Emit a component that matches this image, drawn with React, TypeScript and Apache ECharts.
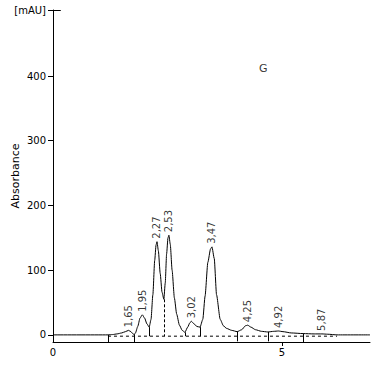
import React, { useEffect, useRef } from "react";
import * as echarts from "echarts";

// Chromatogram trace (retention time in min, absorbance in mAU)
const TIME = [
  0, 1.2, 1.3, 1.4, 1.5, 1.58, 1.65, 1.7, 1.74, 1.77, 1.8, 1.85, 1.9, 1.95, 2.0, 2.05, 2.1,
  2.14, 2.18, 2.22, 2.25, 2.27, 2.3, 2.34, 2.38, 2.42, 2.45, 2.48, 2.51, 2.53, 2.56, 2.6,
  2.65, 2.7, 2.76, 2.82, 2.88, 2.94, 2.99, 3.02, 3.08, 3.14, 3.21, 3.27, 3.32, 3.38, 3.44,
  3.47, 3.52, 3.57, 3.65, 3.72, 3.79, 3.9, 4.02, 4.12, 4.2, 4.25, 4.32, 4.42, 4.55, 4.69,
  4.82, 4.92, 5.02, 5.2, 5.46, 5.7, 5.87, 6.0, 6.2, 6.92,
];
const SIGNAL = [
  0, 0, 0.5, 1.5, 3, 5, 7, 5, 2, 0.5, 3, 13, 26, 31, 26, 17, 12,
  24, 62, 115, 139, 144, 130, 95, 66, 55, 80, 125, 150, 154, 140, 100,
  57, 32, 15, 7, 4, 12, 19, 21, 17, 13, 12, 24, 60, 112, 133,
  136, 118, 62, 24, 14, 10, 7, 5, 8, 14, 15, 12, 8, 5.5, 4.5,
  5.5, 6, 5, 3, 2, 1.5, 1.5, 1, 0, 0,
];

// Integrated peaks
const PEAK_RT = [1.65, 1.95, 2.27, 2.53, 3.02, 3.47, 4.25, 4.92, 5.87];
const PEAK_HEIGHT = [7, 31, 144, 154, 21, 136, 15, 6, 1.5];
const PEAK_LABELS = ["1,65", "1,95", "2,27", "2,53", "3,02", "3,47", "4,25", "4,92", "5,87"];

// Integration baseline and peak boundaries
const BASELINE_START = 1.2;
const BASELINE_END = 6.2;
const BASELINE_LEVEL = -2;
const DROP_T = [1.2, 1.77, 2.1, 2.42, 2.88, 3.21, 4.02, 4.69, 5.46];
const DROP_TOP = [0, 1, 12, 55, 4, 12, 5, 4.5, 2];
const DROP_BOTTOM = [-11, -11, -2, -2, -2, -2, -10, -10, -11];
const DROP_DASHED = [false, false, false, true, false, false, false, false, false];

// Axes
const Y_MIN = -11;
const Y_MAX = 502;
const Y_TICKS = [0, 100, 200, 300, 400, 502];
const X_MIN = 0;
const X_MAX = 6.92;
const X_TICKS = [0, 5];

const FONT = "DejaVu Sans";

export default function App() {
  const ref = useRef<HTMLDivElement>(null);

  useEffect(() => {
    if (!ref.current) return;
    const chart = echarts.init(ref.current, null, { renderer: "svg" });

    const trace = TIME.map((t, i) => [t, SIGNAL[i]]);
    const drops = DROP_T.map((t, i) => [
      { coord: [t, DROP_TOP[i]], lineStyle: { type: DROP_DASHED[i] ? [3, 2] : "solid" } },
      { coord: [t, DROP_BOTTOM[i]] },
    ]);

    chart.setOption({
      animation: false,
      backgroundColor: "#ffffff",
      grid: {
        left: 53,
        top: 10,
        right: 4,
        bottom: 23,
        containLabel: false,
        outerBoundsMode: "none",
      },
      xAxis: {
        type: "value",
        min: X_MIN,
        max: X_MAX,
        axisLine: { onZero: false, lineStyle: { color: "#000", width: 1 } },
        axisTick: { show: true, customValues: [5], length: 4, lineStyle: { color: "#000" } },
        axisLabel: {
          customValues: X_TICKS,
          color: "#000",
          fontFamily: FONT,
          fontSize: 10,
          margin: 5,
          formatter: (v: number) => String(v),
        },
        splitLine: { show: false },
      },
      yAxis: {
        type: "value",
        min: Y_MIN,
        max: Y_MAX,
        name: "Absorbance",
        nameLocation: "middle",
        nameGap: 32,
        nameMoveOverlap: false,
        nameTextStyle: { color: "#000", fontFamily: FONT, fontSize: 11 },
        axisLine: { onZero: false, lineStyle: { color: "#000", width: 1 } },
        axisTick: { show: true, customValues: Y_TICKS, length: 5, lineStyle: { color: "#000" } },
        axisLabel: {
          customValues: Y_TICKS,
          color: "#000",
          fontFamily: FONT,
          fontSize: 10,
          margin: 7,
          formatter: (v: number) => (v === Y_MAX ? "[mAU]" : String(v)),
        },
        splitLine: { show: false },
      },
      series: [
        {
          type: "line",
          data: trace,
          showSymbol: false,
          smooth: 0.2,
          smoothMonotone: "x",
          lineStyle: { color: "#000", width: 1 },
          silent: true,
          z: 3,
        },
        {
          type: "line",
          data: [
            [BASELINE_START, BASELINE_LEVEL],
            [BASELINE_END, BASELINE_LEVEL],
          ],
          showSymbol: false,
          lineStyle: { color: "#000", width: 1, type: [3, 3] },
          silent: true,
          z: 2,
          markLine: {
            silent: true,
            symbol: ["none", "none"],
            label: { show: false },
            lineStyle: { color: "#000", width: 1, type: "solid" },
            data: [...drops, [{ coord: [0, Y_MAX] }, { coord: [0.17, Y_MAX] }]],
          },
        },
        {
          type: "scatter",
          data: PEAK_RT.map((t, i) => ({ value: [t, PEAK_HEIGHT[i]], name: PEAK_LABELS[i] })),
          symbolSize: 0,
          silent: true,
          label: {
            show: true,
            position: "top",
            distance: 3,
            rotate: 90,
            align: "left",
            verticalAlign: "middle",
            formatter: (p: any) => p.name,
            color: "#000",
            fontFamily: FONT,
            fontSize: 10,
          },
          z: 4,
        },
        {
          type: "scatter",
          data: [{ value: [4.59, 412], name: "G" }],
          symbolSize: 0,
          silent: true,
          label: {
            show: true,
            position: "inside",
            formatter: "G",
            color: "#000",
            fontFamily: FONT,
            fontSize: 11,
          },
        },
      ],
    });

    return () => chart.dispose();
  }, []);

  return (
    <div
      ref={ref}
      style={{ position: "absolute", left: 0, top: 0, width: 374, height: 365, background: "#fff" }}
    />
  );
}
